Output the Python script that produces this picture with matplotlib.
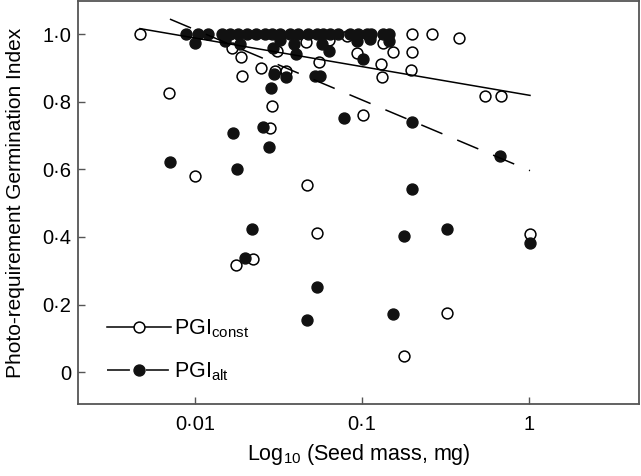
import numpy as np
import matplotlib
matplotlib.use('Agg')
import matplotlib.pyplot as plt
from matplotlib.lines import Line2D

plt.rcParams['font.family'] = ['Liberation Sans', 'DejaVu Sans']
plt.rcParams['mathtext.fontset'] = 'custom'
plt.rcParams['mathtext.rm'] = 'Liberation Sans'
plt.rcParams['mathtext.it'] = 'Liberation Sans:italic'

# PGI under constant temperature (open circles)
const_mass = [0.0047, 0.0168, 0.0189, 0.0192, 0.0070, 0.0248, 0.0302, 0.0351,
              0.0311, 0.0288, 0.0282, 0.0463, 0.0551, 0.0638, 0.0811, 0.093,
              0.102, 0.133, 0.131, 0.132, 0.153, 0.199, 0.200, 0.197, 0.264,
              0.383, 0.546, 0.678, 0.010, 0.0467, 0.0536, 0.0222, 0.0176,
              1.015, 0.322, 0.180]
const_pgi = [1.0, 0.96, 0.933, 0.877, 0.825, 0.901, 0.892, 0.890,
             0.951, 0.786, 0.721, 0.977, 0.919, 0.983, 0.995, 0.943,
             0.762, 0.975, 0.911, 0.872, 0.946, 1.0, 0.946, 0.894, 1.0,
             0.99, 0.818, 0.818, 0.579, 0.555, 0.412, 0.334, 0.317,
             0.41, 0.174, 0.048]

# PGI under alternating temperature (filled circles)
alt_mass = [0.0089, 0.0105, 0.0120, 0.0145, 0.0162, 0.0182, 0.0204, 0.0234,
            0.0263, 0.0288, 0.0323, 0.0371, 0.0414, 0.0478, 0.0536, 0.0587,
            0.0644, 0.0722, 0.0849, 0.0951, 0.1068, 0.1129, 0.1333, 0.146,
            0.0101, 0.0151, 0.0186, 0.0292, 0.0323, 0.0392, 0.0401, 0.0574,
            0.0638, 0.093, 0.102, 0.1118, 0.146, 0.0298, 0.035, 0.0286,
            0.0257, 0.0170, 0.0279, 0.0524, 0.0561, 0.0781, 0.0071, 0.018,
            0.0221, 0.020, 0.054, 0.0471, 0.201, 0.671, 0.201, 0.179,
            0.322, 1.015, 0.154]
alt_pgi = [1.0, 1.0, 1.0, 1.0, 1.0, 1.0, 1.0, 1.0,
           1.0, 1.0, 1.0, 1.0, 1.0, 1.0, 1.0, 1.0,
           1.0, 1.0, 1.0, 1.0, 1.0, 1.0, 1.0, 1.0,
           0.974, 0.980, 0.970, 0.960, 0.982, 0.970, 0.941, 0.970,
           0.951, 0.980, 0.926, 0.985, 0.980, 0.882, 0.872, 0.841,
           0.725, 0.708, 0.666, 0.877, 0.877, 0.751, 0.623, 0.602,
           0.424, 0.338, 0.253, 0.154, 0.739, 0.641, 0.543, 0.402,
           0.424, 0.381, 0.171]

# regression lines: PGI = intercept + slope * log10(mass)
const_slope, const_intercept = -0.0846, 0.8194
alt_slope, alt_intercept = -0.208, 0.5975

fig = plt.figure(figsize=(6.41, 4.76), dpi=100)
ax = fig.add_axes([78 / 641, 1 - 404 / 476, (639 - 78) / 641, 403 / 476])

ax.plot(const_mass, const_pgi, 'o', ms=7.8, mfc='white', mec='black', mew=1.1, zorder=3)
ax.plot(alt_mass, alt_pgi, 'o', ms=7.8, mfc='#111111', mec='#111111', mew=1.1, zorder=4)

xc = np.array([min(const_mass), max(const_mass)])
ax.plot(xc, const_intercept + const_slope * np.log10(xc), '-', color='black', lw=1.1, zorder=5)
xa = np.array([min(alt_mass), max(alt_mass)])
ax.plot(xa, alt_intercept + alt_slope * np.log10(xa), color='black', lw=1.1,
        dashes=(15, 10.5), zorder=5)

ax.set_xscale('log')
ax.set_xlim(0.002, 4.56)
ax.set_ylim(-0.094, 1.098)

ax.set_xticks([0.01, 0.1, 1])
ax.set_xticklabels(['0\u00b701', '0\u00b71', '1'])
ax.xaxis.set_minor_locator(matplotlib.ticker.NullLocator())
ax.set_yticks([0, 0.2, 0.4, 0.6, 0.8, 1.0])
ax.set_yticklabels(['0', '0\u00b72', '0\u00b74', '0\u00b76', '0\u00b78', '1\u00b70'])

for s in ax.spines.values():
    s.set_color('#555555')
    s.set_linewidth(1.3)
ax.tick_params(direction='in', length=5, width=1, color='#555555',
               labelsize=14.5)
ax.tick_params(axis='x', pad=8)
ax.tick_params(axis='y', pad=5)

ax.set_xlabel('Log$_{10}$ (Seed mass, mg)', fontsize=15.5, labelpad=6)
ax.set_ylabel('Photo-requirement Germination Index', fontsize=15, labelpad=12)

h_const = Line2D([], [], color='black', lw=1.1, marker='o', ms=7.8,
                 mfc='white', mec='black', mew=1.1)
h_alt = Line2D([], [], color='black', lw=1.1, dashes=(15, 10.5), marker='o',
               ms=7.8, mfc='#111111', mec='#111111', mew=1.1)
ax.legend([h_const, h_alt], ['PGI$_{\\mathrm{const}}$', 'PGI$_{\\mathrm{alt}}$'],
          loc='lower left', bbox_to_anchor=(0.036, 0.03), frameon=False,
          fontsize=15.5, handlelength=3.0, handletextpad=0.1, labelspacing=0.94,
          numpoints=1, borderaxespad=0)

fig.savefig('out.png', dpi=100)
